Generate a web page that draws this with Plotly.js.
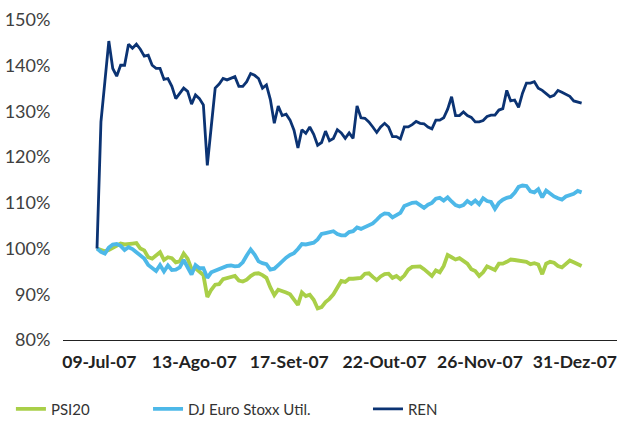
<!DOCTYPE html>
<html>
<head>
<meta charset="utf-8">
<script src="https://cdn.plot.ly/plotly-3.0.1.min.js"></script>
<style>
  html, body { margin: 0; padding: 0; background: #ffffff; }
  #chart { width: 621px; height: 429px; }
</style>
</head>
<body>
<div id="chart"></div>
<script>
// Tick labels (dates shown on the x axis)
const tickLabels = ['09-Jul-07', '13-Ago-07', '17-Set-07', '22-Out-07', '26-Nov-07', '31-Dez-07'];

// Y axis tick values and labels
const yTickValues = [80, 90, 100, 110, 120, 130, 140, 150];
const yTickLabels = ['80%', '90%', '100%', '110%', '120%', '130%', '140%', '150%'];

// Series names
const seriesNames = ['PSI20', 'DJ Euro Stoxx Util.', 'REN'];

// PSI20 (base 100 = 09-Jul-07), in %
const psi20 = [
  100.0, 99.7, 99.4, 99.7, 100.2, 100.8, 101.1, 100.9, 101.1, 101.1,
  101.2, 100.0, 99.6, 98.1, 97.8, 98.5, 99.2, 97.5, 98.1, 97.9,
  97.0, 97.2, 98.9, 97.8, 95.5, 95.7, 95.0, 94.2, 89.4, 91.0,
  92.1, 92.2, 93.3, 93.5, 93.7, 94.0, 93.0, 92.8, 93.2, 94.0,
  94.5, 94.6, 94.2, 93.6, 91.5, 89.8, 91.0, 90.8, 90.4, 90.0,
  89.0, 87.7, 90.4, 89.6, 89.9, 88.8, 86.9, 87.2, 88.3, 89.0,
  90.0, 91.5, 92.9, 92.7, 93.4, 93.4, 93.6, 93.6, 94.5, 94.6,
  93.8, 93.1, 93.9, 94.4, 94.5, 93.6, 94.0, 93.3, 94.1, 95.4,
  96.0, 96.1, 96.1, 95.5, 94.8, 94.0, 95.2, 94.8, 96.2, 98.6,
  98.1, 97.6, 97.9, 97.2, 96.7, 95.5, 95.1, 94.0, 94.8, 96.1,
  95.6, 95.3, 96.7, 96.7, 97.1, 97.6, 97.5, 97.4, 97.1, 97.1,
  96.6, 96.8, 96.5, 94.4, 96.7, 97.1, 96.9, 96.2, 95.9, 96.8,
  97.4, 97.0, 96.5, 96.2
];

// DJ Euro Stoxx Utilities, in %
const djUtil = [
  100.0, 99.3, 98.9, 100.2, 100.9, 101.0, 100.6, 99.7, 100.3, 99.9,
  99.2, 98.4, 97.8, 96.4, 95.8, 95.1, 96.4, 95.0, 96.3, 95.3,
  95.4, 95.9, 97.5, 95.7, 94.3, 96.4, 95.7, 95.7, 93.6, 94.8,
  95.2, 95.4, 95.9, 96.2, 96.3, 96.1, 96.2, 97.0, 98.5, 99.8,
  98.7, 97.2, 96.8, 96.6, 95.4, 95.6, 96.4, 97.3, 98.0, 98.6,
  99.0, 99.9, 101.0, 100.9, 101.1, 101.3, 102.0, 103.2, 103.4, 103.6,
  103.8, 103.2, 102.9, 102.9, 103.6, 103.8, 104.6, 104.3, 104.7, 105.2,
  105.5, 106.3, 107.2, 107.7, 107.6, 106.8, 107.2, 107.8, 109.3, 109.7,
  110.0, 110.1, 109.5, 108.9, 109.6, 110.0, 110.9, 111.1, 110.5, 111.2,
  110.3, 109.5, 109.2, 109.5, 110.4, 109.8, 110.5, 109.7, 111.0, 110.4,
  110.2, 108.7, 110.0, 110.7, 111.1, 111.3, 112.2, 113.5, 113.8, 113.7,
  112.5, 112.3, 113.0, 111.2, 112.7, 112.0, 111.4, 111.0, 110.7, 111.4,
  111.6, 112.0, 112.6, 112.3
];

// REN, in %
const ren = [
  100.0, 127.7, 136.5, 145.4, 139.4, 137.7, 140.1, 140.1, 144.7, 143.8,
  144.7, 143.6, 142.1, 142.3, 140.1, 139.4, 139.4, 137.0, 137.2, 135.5,
  132.8, 134.0, 135.1, 134.4, 131.6, 133.6, 132.8, 131.4, 118.2, 126.7,
  135.1, 136.0, 137.2, 136.9, 137.2, 137.6, 135.5, 135.5, 136.5, 138.3,
  137.9, 137.2, 135.1, 135.8, 132.6, 127.4, 131.2, 129.1, 129.4, 128.1,
  125.9, 122.0, 126.0, 125.2, 126.6, 125.0, 122.6, 123.2, 125.7, 123.6,
  124.1, 126.0, 125.3, 124.1, 125.3, 124.1, 131.2, 128.6, 128.5, 127.7,
  126.6, 125.4, 126.6, 127.4, 126.6, 124.5, 124.5, 124.0, 126.6, 126.6,
  127.1, 127.8, 127.4, 127.3, 126.6, 126.2, 128.1, 128.1, 128.6, 130.5,
  133.2, 129.1, 129.1, 129.9, 129.1, 128.7, 127.7, 127.7, 128.0, 128.9,
  129.2, 129.2, 130.3, 130.6, 134.6, 132.3, 132.5, 130.9, 134.0, 136.2,
  136.2, 136.5, 135.1, 134.6, 133.9, 133.2, 133.5, 134.6, 134.2, 133.8,
  133.3, 132.3, 132.1, 131.8
];

// Trading-day index for each observation
const dayIndex = ren.map((_, i) => i);

const FONT = 'Lato, "Open Sans", "DejaVu Sans", sans-serif';

const traces = [
  { x: dayIndex, y: psi20, name: seriesNames[0], type: 'scatter', mode: 'lines',
    line: { color: '#A9CF48', width: 3.8 }, legend: 'legend', hoverinfo: 'skip' },
  { x: dayIndex, y: djUtil, name: seriesNames[1], type: 'scatter', mode: 'lines',
    line: { color: '#4DB8E8', width: 3.8 }, legend: 'legend2', hoverinfo: 'skip' },
  { x: dayIndex, y: ren, name: seriesNames[2], type: 'scatter', mode: 'lines',
    line: { color: '#0B3373', width: 2.8 }, legend: 'legend3', hoverinfo: 'skip' }
];

const legendBase = {
  orientation: 'h', xanchor: 'left', yanchor: 'middle', y: -0.2158,
  font: { family: FONT, size: 15, color: '#333333' },
  bgcolor: 'rgba(0,0,0,0)', borderwidth: 0
};

const layout = {
  width: 621, height: 429,
  margin: { l: 63, r: 4, t: 20, b: 80, pad: 0 },
  paper_bgcolor: '#ffffff', plot_bgcolor: '#ffffff',
  font: { family: FONT },
  showlegend: true,
  xaxis: {
    type: 'linear', range: [-8.63, 131.98], automargin: false,
    showline: true, linecolor: '#222222', linewidth: 1,
    showgrid: false, zeroline: false,
    tickmode: 'array', tickvals: [0.6, 24.7, 48.8, 73.0, 97.2, 121.3], ticktext: tickLabels,
    ticks: 'outside', ticklen: 6, tickcolor: 'rgba(0,0,0,0)',
    tickfont: { family: FONT, size: 17.5, color: '#222222', weight: 'bold' }
  },
  yaxis: {
    range: [80, 150], automargin: false,
    tickmode: 'array', tickvals: yTickValues, ticktext: yTickLabels,
    showgrid: false, zeroline: false, showline: false,
    ticks: 'outside', ticklen: 8, tickcolor: 'rgba(0,0,0,0)',
    tickfont: { family: FONT, size: 18, color: '#404040' }
  },
  legend: Object.assign({}, legendBase, { x: -0.0940 }),
  legend2: Object.assign({}, legendBase, { x: 0.1535 }),
  legend3: Object.assign({}, legendBase, { x: 0.5505 })
};

Plotly.newPlot('chart', traces, layout, { staticPlot: true, displayModeBar: false });
</script>
</body>
</html>
